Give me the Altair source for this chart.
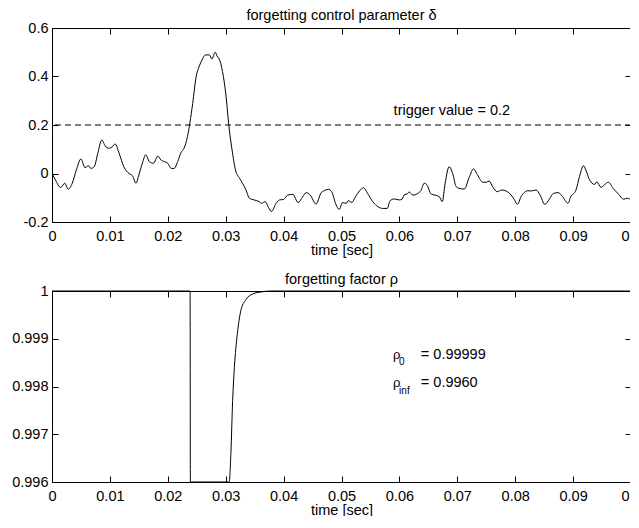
import altair as alt
import pandas as pd

# ---------------- data ----------------
t_delta = [0.0000, 0.0006, 0.0015, 0.0022, 0.0028, 0.0035, 0.0042, 0.0050, 0.0057, 0.0063,
           0.0067, 0.0073, 0.0079, 0.0086, 0.0092, 0.0098, 0.0104, 0.0109, 0.0116, 0.0124,
           0.0133, 0.0139, 0.0145, 0.0150, 0.0156, 0.0162, 0.0168, 0.0175, 0.0183, 0.0188,
           0.0194, 0.0200, 0.0206, 0.0211, 0.0217, 0.0223, 0.0228, 0.0234, 0.0238, 0.0243,
           0.0249, 0.0254, 0.0259, 0.0265, 0.0272, 0.0276, 0.0282, 0.0285, 0.0290, 0.0296,
           0.0301, 0.0305, 0.0311, 0.0317, 0.0324, 0.0329, 0.0335, 0.0341, 0.0349, 0.0358,
           0.0362, 0.0368, 0.0374, 0.0379, 0.0387, 0.0393, 0.0400, 0.0407, 0.0416, 0.0425,
           0.0433, 0.0439, 0.0446, 0.0456, 0.0465, 0.0470, 0.0477, 0.0483, 0.0490, 0.0496,
           0.0502, 0.0508, 0.0512, 0.0518, 0.0524, 0.0531, 0.0538, 0.0545, 0.0554, 0.0563,
           0.0571, 0.0579, 0.0584, 0.0591, 0.0600, 0.0605, 0.0609, 0.0613, 0.0617, 0.0623,
           0.0632, 0.0637, 0.0643, 0.0647, 0.0655, 0.0663, 0.0669, 0.0674, 0.0679, 0.0686,
           0.0692, 0.0698, 0.0703, 0.0712, 0.0721, 0.0728, 0.0735, 0.0744, 0.0750, 0.0755,
           0.0761, 0.0769, 0.0777, 0.0784, 0.0793, 0.0798, 0.0804, 0.0810, 0.0816, 0.0822,
           0.0827, 0.0836, 0.0843, 0.0851, 0.0859, 0.0866, 0.0874, 0.0882, 0.0891, 0.0896,
           0.0905, 0.0911, 0.0918, 0.0922, 0.0928, 0.0937, 0.0941, 0.0948, 0.0954, 0.0961,
           0.0969, 0.0979, 0.0987, 0.0994, 0.1000]
delta = [0.000, -0.027, -0.058, -0.040, -0.065, -0.040, 0.014, 0.060, 0.024, 0.032,
         0.021, 0.028, 0.083, 0.138, 0.113, 0.104, 0.110, 0.122, 0.083, 0.028,
         0.000, -0.009, -0.040, -0.006, 0.042, 0.077, 0.049, 0.042, 0.072, 0.056,
         0.049, 0.042, 0.021, 0.021, 0.049, 0.087, 0.104, 0.152, 0.207, 0.289,
         0.400, 0.440, 0.468, 0.489, 0.489, 0.472, 0.500, 0.485, 0.465, 0.400,
         0.310, 0.207, 0.097, 0.014, -0.020, -0.040, -0.068, -0.102, -0.109, -0.116,
         -0.123, -0.116, -0.140, -0.157, -0.123, -0.109, -0.107, -0.089, -0.086, -0.120,
         -0.096, -0.079, -0.089, -0.126, -0.079, -0.071, -0.065, -0.075, -0.125, -0.148,
         -0.120, -0.123, -0.112, -0.119, -0.096, -0.072, -0.059, -0.082, -0.116, -0.137,
         -0.144, -0.144, -0.112, -0.105, -0.109, -0.105, -0.086, -0.085, -0.076, -0.089,
         -0.082, -0.071, -0.040, -0.045, -0.085, -0.090, -0.096, -0.116, -0.040, 0.028,
         0.000, -0.054, -0.061, -0.064, -0.013, 0.019, -0.006, -0.036, -0.036, -0.031,
         -0.054, -0.075, -0.068, -0.072, -0.089, -0.106, -0.127, -0.096, -0.078, -0.071,
         -0.072, -0.068, -0.089, -0.127, -0.106, -0.082, -0.079, -0.096, -0.123, -0.096,
         -0.068, -0.013, 0.032, 0.014, -0.024, -0.045, -0.034, -0.057, -0.047, -0.036,
         -0.061, -0.086, -0.106, -0.102, -0.109]

t_rho = [0.0, 0.02385, 0.02390, 0.0306, 0.0309, 0.0312, 0.0315, 0.0320, 0.0326, 0.0335,
         0.0347, 0.0361, 0.0378, 0.1]
rho = [1.0, 1.0, 0.996, 0.996, 0.99661, 0.99771, 0.99840, 0.99909, 0.99958, 0.99982,
       0.99994, 0.99998, 1.0, 1.0]

trigger = [0.2]
x_ticks = [0, 0.01, 0.02, 0.03, 0.04, 0.05, 0.06, 0.07, 0.08, 0.09, 0.1]
y1_ticks = [-0.2, 0, 0.2, 0.4, 0.6]
y2_ticks = [0.996, 0.997, 0.998, 0.999, 1.0]

# ---------------- style ----------------
FONT = "Liberation Sans"
FS = 14.5
TICK = 6

df_delta = pd.DataFrame({"t": t_delta, "delta": delta})
df_rho = pd.DataFrame({"t": t_rho, "rho": rho, "order": list(range(len(t_rho)))})
df_trig = pd.DataFrame({"trigger": trigger})
df_trig_txt = pd.DataFrame({"t": [0.0590], "v": [0.241], "label": ["trigger value = 0.2"]})
df_rho_main = pd.DataFrame({"t": [0.0589, 0.0589], "v": [0.99857, 0.99799], "label": ["\u03c1", "\u03c1"]})
df_rho_sub = pd.DataFrame({"t": [0.05995, 0.05995], "v": [0.998446, 0.997845], "label": ["0", "inf"]})
df_rho_val = pd.DataFrame({"t": [0.0637, 0.0637], "v": [0.99857, 0.99799], "label": ["= 0.99999", "= 0.9960"]})

xs = alt.Scale(domain=[0, 0.1], nice=False, zero=False)
y1s = alt.Scale(domain=[-0.2, 0.6], nice=False, zero=False)
y2s = alt.Scale(domain=[0.996, 1.0], nice=False, zero=False)

LABEL_EXPR = "replace(format(datum.value, '~g'), '\u2212', '-')"


def x_axis_bottom():
    return alt.Axis(values=x_ticks, format="~g", tickSize=TICK, offset=-TICK, domain=False,
                    labelPadding=7.5, title="time [sec]", titlePadding=0, grid=False,
                    labelFlush=False, labelOverlap=False, minExtent=0)


def x_axis_top():
    return alt.Axis(orient="top", values=x_ticks, labels=False, tickSize=TICK, offset=-TICK,
                    domain=False, title=None, grid=False, minExtent=0, maxExtent=0)


def y_axis_left(vals):
    return alt.Axis(values=vals, labelExpr=LABEL_EXPR, tickSize=TICK, offset=-TICK,
                    domain=False, labelPadding=4, title=None, grid=False, labelOverlap=False,
                    minExtent=0)


def y_axis_right(vals):
    return alt.Axis(orient="right", values=vals, labels=False, tickSize=TICK, offset=-TICK,
                    domain=False, title=None, grid=False, minExtent=0, maxExtent=0)


# ---------------- top panel ----------------
top_line = alt.Chart(df_delta).mark_line(color="black", strokeWidth=1, interpolate="monotone").encode(
    x=alt.X("t:Q", scale=xs, axis=x_axis_bottom()),
    y=alt.Y("delta:Q", scale=y1s, axis=y_axis_left(y1_ticks)),
)
top_mirror = alt.Chart(df_delta).mark_line(opacity=0).encode(
    x=alt.X("t:Q", scale=xs, axis=x_axis_top()),
    y=alt.Y("delta:Q", scale=y1s, axis=y_axis_right(y1_ticks)),
)
top_rule = alt.Chart(df_trig).mark_rule(color="black", strokeWidth=1, strokeDash=[6, 4]).encode(
    y=alt.Y("trigger:Q", scale=y1s, axis=None),
)
top_text = alt.Chart(df_trig_txt).mark_text(align="left", baseline="alphabetic", font=FONT,
                                           fontSize=FS, color="black").encode(
    x=alt.X("t:Q", scale=xs, axis=None),
    y=alt.Y("v:Q", scale=y1s, axis=None),
    text="label:N",
)
top = alt.layer(top_line, top_mirror, top_rule, top_text).resolve_axis(
    x="independent", y="independent"
).properties(
    width=579, height=194,
    title=alt.TitleParams("forgetting control parameter \u03b4", fontSize=FS, font=FONT,
                          fontWeight="normal", color="black", offset=-3),
)

# ---------------- bottom panel ----------------
bot_line = alt.Chart(df_rho).mark_line(color="black", strokeWidth=1, interpolate="monotone").encode(
    x=alt.X("t:Q", scale=xs, axis=x_axis_bottom()),
    y=alt.Y("rho:Q", scale=y2s, axis=y_axis_left(y2_ticks)),
    order="order:Q",
)
bot_mirror = alt.Chart(df_rho).mark_line(opacity=0).encode(
    x=alt.X("t:Q", scale=xs, axis=x_axis_top()),
    y=alt.Y("rho:Q", scale=y2s, axis=y_axis_right(y2_ticks)),
    order="order:Q",
)
rho_main = alt.Chart(df_rho_main).mark_text(align="left", baseline="alphabetic", font=FONT,
                                           fontSize=13, color="black").encode(
    x=alt.X("t:Q", scale=xs, axis=None), y=alt.Y("v:Q", scale=y2s, axis=None), text="label:N")
rho_sub = alt.Chart(df_rho_sub).mark_text(align="left", baseline="alphabetic", font=FONT,
                                         fontSize=10, color="black").encode(
    x=alt.X("t:Q", scale=xs, axis=None), y=alt.Y("v:Q", scale=y2s, axis=None), text="label:N")
rho_val = alt.Chart(df_rho_val).mark_text(align="left", baseline="alphabetic", font=FONT,
                                         fontSize=FS, color="black").encode(
    x=alt.X("t:Q", scale=xs, axis=None), y=alt.Y("v:Q", scale=y2s, axis=None), text="label:N")

bottom = alt.layer(bot_line, bot_mirror, rho_main, rho_sub, rho_val).resolve_axis(
    x="independent", y="independent"
).properties(
    width=579, height=191,
    title=alt.TitleParams("forgetting factor \u03c1", fontSize=FS, font=FONT,
                          fontWeight="normal", color="black", offset=-4),
)

chart = alt.vconcat(top, bottom, spacing=14).properties(
    padding={"left": 3, "top": -1, "right": -12, "bottom": -1}
).configure_view(
    stroke="black", strokeWidth=1
).configure_axis(
    labelFont=FONT, labelFontSize=FS, labelColor="black",
    titleFont=FONT, titleFontSize=FS, titleColor="black", titleFontWeight="normal",
    tickColor="black", tickWidth=1,
)

chart.save("out.html", embed_options={"renderer": "svg", "actions": False})
